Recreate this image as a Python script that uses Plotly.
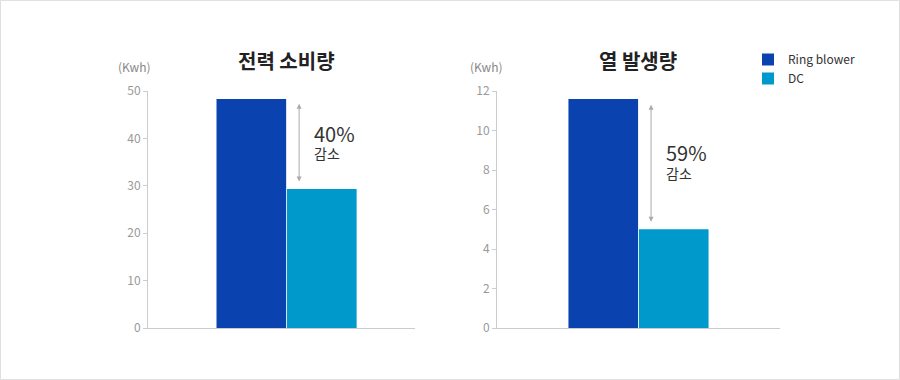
import plotly.graph_objects as go

# ---- data ----
series_names = ["Ring blower", "DC"]
series_colors = ["#0a42b0", "#0099cc"]
power_values = [48.3, 29.3]      # 전력 소비량 (Kwh)
heat_values = [11.6, 5.0]        # 열 발생량 (Kwh)
titles = ["전력 소비량", "열 발생량"]
unit_label = "(Kwh)"
power_ticks = [0, 10, 20, 30, 40, 50]
heat_ticks = [0, 2, 4, 6, 8, 10, 12]
reductions = ["40%", "59%"]
reduction_word = "감소"

FONT = "Noto Sans CJK KR"
W, H = 900, 380

fig = go.Figure()

for i, name in enumerate(series_names):
    fig.add_trace(go.Bar(x=[0], y=[power_values[i]], name=name,
                         marker=dict(color=series_colors[i], line=dict(width=0)),
                         xaxis="x", yaxis="y", legendgroup=name, showlegend=True,
                         hoverinfo="skip"))
    fig.add_trace(go.Bar(x=[0], y=[heat_values[i]], name=name,
                         marker=dict(color=series_colors[i], line=dict(width=0)),
                         xaxis="x2", yaxis="y2", legendgroup=name, showlegend=False,
                         hoverinfo="skip"))

def px_x(p):
    return p / W

def px_y(p):
    return 1 - p / H

axis_common = dict(showgrid=False, zeroline=False, showline=True, linecolor="#cccccc",
                   linewidth=1)
ytick_common = dict(ticks="outside", ticklen=4, tickcolor="#cccccc",
                    tickfont=dict(family=FONT, size=12, color="#999999"))

fig.update_layout(
    width=W, height=H, autosize=False,
    margin=dict(l=0, r=0, t=0, b=0, pad=0, autoexpand=False),
    paper_bgcolor="white", plot_bgcolor="white",
    barmode="group", bargap=0.472, bargroupgap=0.012,
    font=dict(family=FONT),
    xaxis=dict(domain=[px_x(148), px_x(415)], range=[-0.519, 0.481],
               showticklabels=False, ticks="", anchor="y", **axis_common),
    yaxis=dict(domain=[px_y(328), px_y(91)], range=[0, 50], tickvals=power_ticks,
               anchor="x", automargin=False, **axis_common, **ytick_common),
    xaxis2=dict(domain=[px_x(497), px_x(780)], range=[-0.53, 0.53],
                showticklabels=False, ticks="", anchor="y2", **axis_common),
    yaxis2=dict(domain=[px_y(328), px_y(91)], range=[0, 12], tickvals=heat_ticks,
                anchor="x2", automargin=False, **axis_common, **ytick_common),
    legend=dict(x=px_x(748), y=px_y(45), xanchor="left", yanchor="top",
                font=dict(family=FONT, size=12, color="#333333"),
                bgcolor="rgba(0,0,0,0)", tracegroupgap=0, itemwidth=30),
    showlegend=True,
)

annotations = []
annotations.append(dict(text="<b>" + titles[0] + "</b>", x=px_x(286), y=px_y(60),
                        xref="paper", yref="paper", showarrow=False,
                        xanchor="center", yanchor="middle",
                        font=dict(family=FONT, size=20, color="#222222")))
annotations.append(dict(text="<b>" + titles[1] + "</b>", x=px_x(638), y=px_y(60),
                        xref="paper", yref="paper", showarrow=False,
                        xanchor="center", yanchor="middle",
                        font=dict(family=FONT, size=20, color="#222222")))
# unit labels
annotations.append(dict(text=unit_label, x=px_x(134), y=px_y(66),
                        xref="paper", yref="paper", showarrow=False,
                        xanchor="center", yanchor="middle",
                        font=dict(family=FONT, size=12, color="#888888")))
annotations.append(dict(text=unit_label, x=px_x(486), y=px_y(66),
                        xref="paper", yref="paper", showarrow=False,
                        xanchor="center", yanchor="middle",
                        font=dict(family=FONT, size=12, color="#888888")))

# reduction arrows and labels
arrow_specs = [
    ("x", "y", 47.3, 30.6, 41.1, 37.0, reductions[0]),
    ("x2", "y2", 11.3, 5.3, 8.91, 7.85, reductions[1]),
]
for xr, yr, ytop, ybot, ytext, yword, pct in arrow_specs:
    annotations.append(dict(x=0.047, y=ytop, ax=0.047, ay=ybot, xref=xr, yref=yr,
                            axref=xr, ayref=yr, text="", showarrow=True,
                            arrowhead=2, arrowside="end+start", arrowsize=1,
                            arrowwidth=1, arrowcolor="#aaaaaa"))
    annotations.append(dict(x=0.098, y=ytext, xref=xr, yref=yr, text=pct,
                            showarrow=False, xanchor="left", yanchor="middle",
                            borderpad=0,
                            font=dict(family=FONT, size=20, color="#333333")))
    annotations.append(dict(x=0.098, y=yword, xref=xr, yref=yr, text=reduction_word,
                            showarrow=False, xanchor="left", yanchor="middle",
                            borderpad=0,
                            font=dict(family=FONT, size=14, color="#333333")))

fig.update_layout(annotations=annotations)

# outer border
fig.add_shape(type="rect", xref="paper", yref="paper", x0=0.0005, y0=0.001,
              x1=0.9995, y1=0.999, line=dict(color="#dddddd", width=1),
              fillcolor="rgba(0,0,0,0)", layer="below")

post = (
    "var gd=document.getElementById('{plot_id}');"
    "gd.style.position='fixed';gd.style.top='0px';gd.style.left='0px';"
    "document.documentElement.style.margin='0';document.documentElement.style.padding='0';"
    "document.documentElement.style.overflow='hidden';"
    "document.body.style.margin='0';document.body.style.padding='0';"
    "document.body.style.overflow='hidden';"
)

fig.write_html("out.html", config={"displayModeBar": False, "responsive": False},
               post_script=post)
